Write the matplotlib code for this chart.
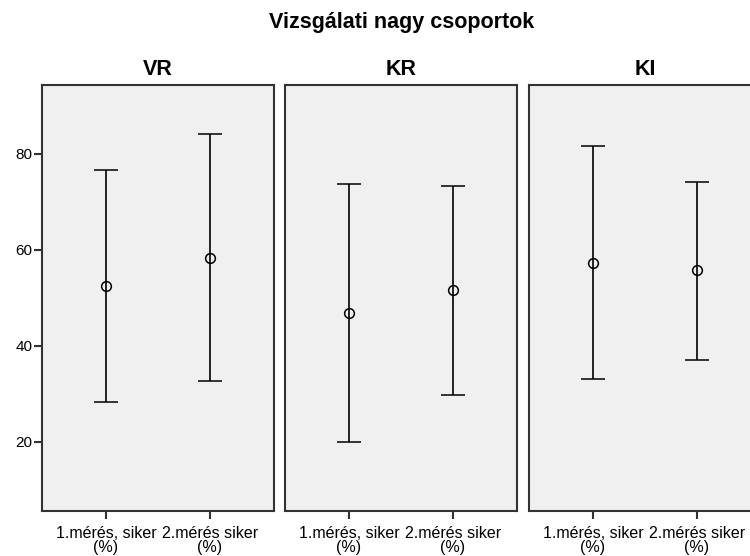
import matplotlib
matplotlib.use("Agg")
import matplotlib.pyplot as plt

plt.rcParams['font.family'] = ['Liberation Sans', 'DejaVu Sans']

groups = ["VR", "KR", "KI"]
measures = ["1.mérés, siker\n(%)", "2.mérés siker\n(%)"]
means = {
    "VR": [52.4, 58.3],
    "KR": [46.9, 51.7],
    "KI": [57.3, 55.9],
}
upper = {
    "VR": [76.6, 84.1],
    "KR": [73.8, 73.4],
    "KI": [81.7, 74.2],
}
lower = {
    "VR": [28.3, 32.6],
    "KR": [20.0, 29.8],
    "KI": [33.1, 37.1],
}
yticks = [20, 40, 60, 80]

fig = plt.figure(figsize=(7.5, 5.56), dpi=100)
fig.patch.set_facecolor("white")

W, H = 750, 556
lefts = [42, 285, 529]
panel_w = 232
top_px, bot_px = 85.3, 511

fig.text(402 / W, 1 - 28 / H, "Vizsgálati nagy csoportok", ha="center", va="baseline",
         fontsize=15.5, fontweight="bold")

for i, g in enumerate(groups):
    ax = fig.add_axes([lefts[i] / W, 1 - bot_px / H, panel_w / W, (bot_px - top_px) / H])
    ax.set_facecolor("#f0f0f0")
    x = list(range(len(measures)))
    m = means[g]
    yerr = [[m[k] - lower[g][k] for k in x], [upper[g][k] - m[k] for k in x]]
    ax.errorbar(x, m, yerr=yerr, fmt="o", mfc="none", mec="black", ms=7, mew=1.1,
                ecolor="black", elinewidth=1.2, capsize=8.5, capthick=1.2)
    ax.set_xlim(-0.616, 1.616)
    ax.set_ylim(5.6, 94.3)
    ax.set_xticks(x)
    ax.set_xticklabels(measures, fontsize=11.5, linespacing=0.9)
    ax.set_yticks(yticks)
    if i == 0:
        ax.set_yticklabels([str(v) for v in yticks], fontsize=11)
        ax.tick_params(axis="y", length=6, width=1.5, color="#333333", pad=1)
    else:
        ax.tick_params(axis="y", left=False, labelleft=False)
    ax.tick_params(axis="x", length=6, width=1.5, color="#333333", pad=5)
    for s in ax.spines.values():
        s.set_color("#333333")
        s.set_linewidth(1.5)
    fig.text((lefts[i] + panel_w / 2) / W, 1 - 75 / H, g, ha="center", va="baseline",
             fontsize=15.5, fontweight="bold")

fig.savefig("out.png", dpi=100)
